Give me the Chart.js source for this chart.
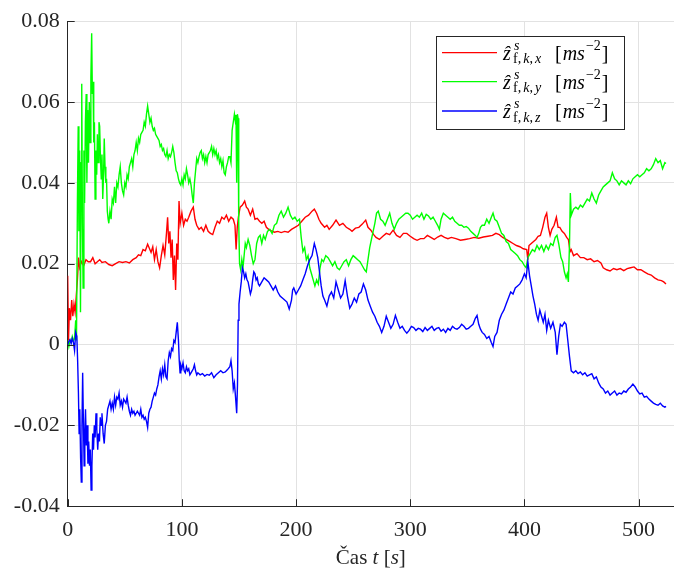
<!DOCTYPE html>
<html>
<head>
<meta charset="utf-8">
<script src="https://cdn.jsdelivr.net/npm/chart.js@4/dist/chart.umd.min.js"></script>
<style>
html,body{margin:0;padding:0;background:#fff;}
canvas{display:block;}
</style>
</head>
<body>
<canvas id="c" width="674" height="572"></canvas>
<script>
// ---- DATA ----
const xTicks = [0, 100, 200, 300, 400, 500];
const yTicks = [-0.04, -0.02, 0, 0.02, 0.04, 0.06, 0.08];
const seriesLabels = ['x', 'y', 'z'];

const redPts = [[0,0.017],[0.7,0.001],[1.5,0.009],[2.5,0.006],[3.5,0.011],[4.5,0.007],[5.5,0.010],[6.5,0.008],[7.5,0.012],[8.5,0.016],[9.5,0.0215],[10.5,0.019],[12,0.0205],[14,0.0195],[16,0.021],[18,0.0205],[20,0.0205],[22,0.0215],[24,0.020],[26,0.0205],[28,0.021],[30,0.0203],[33,0.0205],[36,0.0198],[39,0.0195],[42,0.020],[45,0.0205],[48,0.0203],[51,0.0205],[54,0.0202],[57,0.021],[60,0.0215],[62,0.0222],[64,0.022],[66,0.0235],[68,0.0232],[70,0.0248],[71.5,0.0238],[73,0.0228],[74.5,0.0242],[76,0.021],[77.5,0.0235],[79,0.0205],[80.5,0.019],[82,0.022],[83.5,0.0245],[85,0.0222],[86.5,0.0275],[87.5,0.0315],[88.5,0.025],[89.5,0.028],[90.5,0.0215],[91.5,0.026],[92.5,0.016],[93.5,0.022],[94.5,0.0135],[95.5,0.025],[96.5,0.021],[97.5,0.0355],[98.5,0.030],[100,0.0325],[101.5,0.0295],[103,0.031],[104.5,0.0305],[106,0.0315],[108,0.033],[110,0.034],[111.5,0.031],[113,0.0295],[115,0.0285],[117,0.029],[119,0.028],[121,0.0295],[123,0.028],[125,0.0275],[127,0.0272],[129,0.029],[131,0.0305],[133,0.030],[135,0.0315],[137,0.031],[139,0.032],[141,0.0305],[143,0.0315],[145,0.031],[146.5,0.0295],[147.5,0.0235],[148.5,0.029],[149.5,0.0315],[151,0.034],[153,0.0345],[155,0.0355],[156.5,0.034],[158,0.0335],[160,0.032],[162,0.0335],[164,0.031],[166,0.0312],[168,0.0305],[170,0.030],[172,0.0305],[174,0.029],[176,0.0285],[178,0.0282],[181,0.0278],[184,0.028],[187,0.0277],[190,0.028],[193,0.0278],[196,0.0285],[199,0.029],[202,0.0295],[205,0.0305],[208,0.0315],[211,0.032],[214,0.033],[216,0.0335],[218,0.0325],[220,0.031],[222,0.030],[225,0.029],[227,0.0295],[229,0.0285],[232,0.0295],[235,0.0308],[238,0.0295],[241,0.030],[244,0.029],[247,0.0285],[249,0.028],[252,0.0288],[255,0.029],[258,0.0298],[261,0.0308],[263,0.029],[265.5,0.0283],[268,0.0272],[270,0.0265],[273,0.026],[276,0.0268],[279,0.0275],[282,0.0272],[285,0.0283],[288,0.027],[291,0.0265],[294,0.0275],[297,0.0275],[300,0.0268],[303,0.0262],[306,0.0258],[309,0.0262],[312,0.0262],[315,0.027],[318,0.0265],[321,0.026],[324,0.0266],[327,0.027],[330,0.0265],[333,0.0262],[336,0.0265],[340,0.0262],[344,0.0258],[348,0.026],[352,0.0262],[356,0.0265],[360,0.0263],[364,0.0266],[368,0.0268],[372,0.027],[375,0.0275],[378,0.0272],[381,0.0265],[384,0.026],[387,0.0255],[390,0.025],[393,0.0245],[396,0.0242],[399,0.0237],[402,0.0235],[403,0.021],[404,0.0245],[406,0.025],[408,0.0255],[410,0.026],[412,0.0268],[414,0.027],[416,0.029],[418,0.0315],[419.5,0.0325],[421,0.029],[422.5,0.027],[424,0.0285],[426,0.0295],[428,0.0315],[429.5,0.029],[431,0.029],[433,0.028],[435,0.0275],[437,0.0265],[438.5,0.026],[440,0.023],[441,0.0235],[443,0.022],[446,0.0225],[449,0.0215],[452,0.0215],[455,0.021],[458,0.0212],[461,0.0205],[464,0.0208],[467,0.0202],[469,0.019],[472,0.0185],[475,0.0182],[478,0.0188],[481,0.0185],[484,0.0188],[487,0.0183],[490,0.0188],[493,0.019],[496,0.0192],[499,0.0185],[502,0.0185],[505,0.018],[508,0.0175],[511,0.0172],[514,0.0165],[517,0.016],[520,0.0158],[522,0.0155],[524,0.015]];

const greenPts = [[0,0.001],[1,-0.0005],[2,0.001],[3,0.0005],[4,0.002],[5,0.001],[6,0.0015],[7,0.006],[7.7,0.001],[8.5,0.035],[9.2,0.054],[9.8,0.028],[10.5,0.048],[11.2,0.008],[11.8,0.045],[12.3,0.0645],[12.9,0.030],[13.5,0.014],[14.2,0.048],[14.8,0.035],[15.5,0.055],[16.2,0.062],[16.8,0.040],[17.5,0.058],[18.2,0.045],[18.9,0.060],[19.6,0.050],[20.3,0.066],[21,0.077],[21.6,0.062],[22.2,0.065],[22.8,0.050],[23.4,0.055],[24,0.036],[24.7,0.048],[25.4,0.042],[26,0.052],[26.7,0.045],[27.4,0.055],[28,0.054],[28.7,0.046],[29.4,0.041],[30,0.047],[30.7,0.036],[31.4,0.042],[32,0.051],[32.7,0.044],[33.4,0.040],[34,0.041],[34.7,0.033],[35.4,0.031],[36,0.030],[37,0.033],[38,0.031],[39,0.036],[40,0.035],[41,0.039],[42,0.035],[43,0.040],[44,0.039],[45,0.042],[46,0.044],[47,0.040],[48,0.038],[49,0.037],[50,0.040],[51,0.039],[52,0.042],[53,0.041],[54,0.044],[55,0.045],[56,0.046],[57,0.044],[58,0.047],[59,0.048],[60,0.050],[61,0.048],[62,0.051],[63,0.050],[64,0.052],[65,0.0525],[66,0.053],[67,0.055],[68,0.054],[69,0.057],[70,0.059],[71,0.057],[72,0.055],[73,0.056],[74,0.054],[75,0.053],[76,0.0535],[77,0.052],[78,0.0515],[79,0.051],[80,0.0505],[81,0.049],[82,0.0495],[83,0.048],[84,0.0485],[85,0.047],[86,0.0465],[87,0.048],[88,0.046],[89,0.047],[90,0.0465],[91,0.0475],[92,0.049],[93,0.0475],[94,0.045],[95,0.043],[96,0.0425],[97,0.041],[98,0.040],[99,0.0395],[100,0.041],[101,0.0395],[102,0.042],[103,0.041],[104,0.0435],[105,0.042],[106,0.040],[107,0.041],[108,0.0395],[109,0.037],[110,0.035],[111,0.040],[112,0.043],[113,0.046],[114,0.045],[115,0.0465],[116,0.0475],[117,0.048],[118,0.046],[119,0.047],[120,0.045],[121,0.0465],[122,0.045],[123,0.047],[124,0.0475],[125,0.048],[126,0.049],[127,0.047],[128,0.0485],[129,0.047],[130,0.048],[131,0.046],[132,0.047],[133,0.045],[134,0.046],[135,0.044],[136,0.0455],[137,0.0425],[138,0.042],[139,0.044],[140,0.045],[141,0.0465],[142,0.0465],[143,0.045],[144,0.053],[145,0.055],[146,0.057],[146.7,0.0555],[147.4,0.0568],[148,0.040],[148.6,0.057],[149.2,0.056],[149.8,0.030],[150.5,0.020],[151.5,0.0185],[152.5,0.021],[153.5,0.019],[154.5,0.022],[155.5,0.025],[156.5,0.024],[158,0.026],[159.5,0.0245],[161,0.022],[162.5,0.020],[164,0.021],[165.5,0.025],[167,0.0265],[168.5,0.027],[170,0.025],[171.5,0.027],[173,0.026],[175,0.028],[177,0.0285],[179,0.0275],[181,0.0295],[183,0.030],[185,0.032],[187,0.033],[189,0.0315],[191,0.0325],[193,0.034],[195,0.032],[197,0.031],[199,0.0315],[201,0.0305],[203,0.031],[204.5,0.0265],[206,0.023],[207.5,0.024],[209,0.021],[210.5,0.022],[212,0.019],[213.5,0.0175],[215,0.016],[216.5,0.0145],[218,0.016],[219.5,0.015],[221,0.019],[222.5,0.021],[224,0.0205],[226,0.022],[228,0.0215],[230,0.0205],[232,0.0195],[234,0.0205],[236,0.019],[238,0.0185],[240,0.0195],[242,0.0205],[244,0.021],[246,0.0195],[248,0.021],[250,0.022],[252,0.0215],[254,0.021],[256,0.0205],[258,0.0195],[260,0.0185],[261.5,0.018],[263,0.021],[264.5,0.024],[266,0.026],[267.5,0.028],[269,0.030],[270.5,0.0325],[272,0.033],[274,0.031],[276,0.0305],[278,0.0295],[280,0.031],[282,0.0325],[284,0.030],[286,0.0285],[288,0.030],[290,0.031],[292,0.0315],[294,0.032],[296,0.0325],[298,0.0325],[300,0.032],[302,0.031],[304,0.0315],[306,0.032],[308,0.0315],[310,0.0325],[312,0.031],[314,0.0322],[316,0.0318],[318,0.031],[320,0.0315],[322,0.0305],[324,0.0295],[325.5,0.0285],[327,0.031],[329,0.0325],[331,0.032],[333,0.0315],[335,0.031],[337,0.0315],[339,0.0305],[341,0.030],[343,0.0295],[345,0.0295],[347,0.029],[349,0.0292],[351,0.0288],[353,0.028],[355,0.0275],[357,0.027],[358.5,0.0265],[360,0.0275],[361.5,0.029],[363,0.0295],[365,0.0295],[367,0.031],[369,0.030],[371,0.0315],[372.5,0.0325],[374,0.031],[376,0.0305],[378,0.029],[380,0.0275],[382,0.027],[384,0.0255],[386,0.025],[388,0.0235],[390,0.023],[392,0.0225],[394,0.022],[396,0.021],[398,0.0205],[400,0.0195],[401.5,0.019],[403,0.0215],[405,0.0225],[407,0.0235],[409,0.023],[411,0.0245],[413,0.0235],[415,0.0245],[417,0.023],[419,0.0245],[421,0.0235],[423,0.025],[425,0.0245],[427,0.0265],[428.5,0.027],[430,0.025],[432,0.0215],[433.5,0.0205],[435,0.018],[436.5,0.0165],[437.5,0.0175],[438.5,0.0155],[439.5,0.025],[440.2,0.0375],[441,0.032],[443,0.0335],[445,0.034],[447,0.0335],[449,0.0345],[451,0.034],[453,0.035],[455,0.036],[457,0.0355],[459,0.0375],[461,0.036],[463,0.035],[465,0.037],[467,0.038],[469,0.039],[471,0.0395],[473,0.040],[475,0.0405],[477,0.0425],[479,0.041],[481,0.0405],[483,0.0395],[485,0.0405],[487,0.040],[489,0.0395],[491,0.0405],[493,0.0398],[495,0.041],[497,0.0415],[499,0.042],[501,0.0415],[503,0.042],[505,0.0425],[507,0.0435],[509,0.043],[511,0.0435],[513,0.0445],[515,0.046],[517,0.045],[519,0.0455],[521,0.0435],[523,0.045],[524,0.0448]];

const bluePts = [[0,0],[1,0.0008],[2,0.0012],[3,0.0003],[4,0.0015],[5,0.0005],[6,-0.0015],[7,0.003],[8,0.002],[8.7,-0.004],[9.4,-0.012],[10,-0.022],[10.6,-0.016],[11.3,-0.028],[11.9,-0.034],[12.5,-0.020],[13.1,-0.007],[13.7,-0.018],[14.4,-0.030],[15,-0.022],[15.6,-0.016],[16.3,-0.025],[17,-0.020],[17.7,-0.0295],[18.4,-0.024],[19.1,-0.030],[19.8,-0.026],[20.5,-0.036],[21.2,-0.030],[21.9,-0.022],[22.6,-0.026],[23.3,-0.020],[24,-0.023],[24.8,-0.017],[25.5,-0.021],[26.3,-0.026],[27,-0.022],[27.8,-0.024],[28.5,-0.018],[29.3,-0.020],[30,-0.017],[31,-0.022],[32,-0.0245],[33,-0.020],[34,-0.019],[35,-0.016],[36,-0.015],[37,-0.014],[38,-0.016],[39,-0.0145],[40,-0.016],[41,-0.013],[42,-0.015],[43,-0.013],[44,-0.0135],[45,-0.012],[46,-0.015],[47,-0.014],[48,-0.0155],[49,-0.0135],[50,-0.014],[51,-0.0145],[52,-0.013],[53,-0.015],[54,-0.0165],[55,-0.0175],[56,-0.016],[57,-0.017],[58,-0.0165],[59,-0.0175],[60,-0.017],[61,-0.0165],[62,-0.017],[63,-0.0175],[64,-0.016],[65,-0.018],[66,-0.0175],[67,-0.0185],[68,-0.018],[69,-0.019],[70,-0.0205],[71,-0.017],[72,-0.016],[73,-0.0155],[74,-0.014],[75,-0.013],[76,-0.012],[77,-0.0125],[78,-0.011],[79,-0.010],[80,-0.008],[81,-0.0065],[82,-0.0085],[83,-0.006],[84,-0.0075],[85,-0.005],[86,-0.008],[87,-0.0085],[88,-0.004],[89,-0.002],[90,-0.003],[91,-0.001],[92,-0.0015],[93,0.001],[94,0.0005],[95,0.003],[96,0.0055],[97,0.001],[97.7,-0.004],[98.4,-0.007],[99,-0.005],[100,-0.006],[101,-0.0045],[102,-0.0065],[103,-0.007],[104,-0.0055],[105,-0.0065],[106,-0.006],[107,-0.0075],[108,-0.007],[109,-0.0065],[110,-0.006],[111,-0.005],[112,-0.0065],[113,-0.0075],[114,-0.007],[116,-0.0075],[118,-0.0072],[120,-0.0078],[122,-0.0074],[124,-0.0076],[126,-0.007],[128,-0.0082],[130,-0.0075],[132,-0.007],[134,-0.0065],[136,-0.007],[138,-0.0068],[140,-0.0062],[142,-0.0055],[143,-0.004],[144,-0.0065],[145,-0.011],[146,-0.0095],[147,-0.013],[148,-0.017],[148.7,-0.010],[149.3,0.006],[150,0.010],[151,0.013],[152,0.0155],[153,0.019],[154,0.018],[155,0.0165],[156,0.0175],[157,0.016],[158,0.0155],[159,0.014],[160,0.0125],[161,0.0135],[162,0.016],[163,0.018],[164,0.0175],[165,0.016],[166,0.0165],[167,0.015],[168,0.0145],[169,0.015],[170,0.0155],[172,0.0165],[174,0.016],[176,0.0155],[178,0.0145],[180,0.0135],[182,0.0145],[184,0.013],[186,0.012],[188,0.0115],[190,0.011],[192,0.0105],[194,0.0088],[196,0.011],[197,0.0135],[198,0.014],[200,0.0125],[202,0.0135],[204,0.0145],[206,0.016],[208,0.0175],[210,0.0195],[212,0.021],[214,0.022],[216,0.025],[217.5,0.0235],[219,0.0215],[220.5,0.018],[222,0.0145],[223.5,0.012],[225,0.011],[227,0.0095],[229,0.012],[231,0.013],[233,0.0115],[235,0.0155],[237,0.0135],[239,0.0115],[241,0.0125],[243,0.0158],[245,0.012],[247,0.009],[249,0.010],[251,0.0115],[253,0.0105],[255,0.0125],[257,0.013],[259,0.015],[261,0.0135],[263,0.011],[265,0.0095],[267,0.008],[269,0.007],[271,0.0055],[273,0.0045],[275,0.003],[277,0.0045],[279,0.007],[281,0.0055],[283,0.004],[285,0.005],[287,0.0072],[289,0.0055],[291,0.004],[293,0.0045],[295,0.0035],[297,0.0028],[299,0.0035],[301,0.0045],[303,0.0042],[305,0.0035],[307,0.004],[309,0.0038],[311,0.0032],[313,0.0042],[315,0.0035],[317,0.004],[319,0.0045],[321,0.0035],[323,0.004],[325,0.0042],[327,0.0033],[329,0.0038],[331,0.003],[333,0.004],[335,0.0035],[337,0.0045],[339,0.004],[341,0.0038],[343,0.0042],[345,0.005],[347,0.0045],[349,0.0038],[351,0.004],[353,0.0045],[355,0.005],[357,0.0065],[358.5,0.0072],[360,0.005],[361.5,0.0038],[363,0.003],[365,0.0025],[367,0.0015],[369,0.002],[371,0.0005],[372.5,-0.0005],[374,0.002],[376,0.003],[378,0.006],[380,0.0075],[382,0.0085],[384,0.010],[386,0.0115],[388,0.013],[390,0.0125],[392,0.014],[394,0.0145],[396,0.015],[398,0.016],[400,0.0175],[401.5,0.0165],[403,0.0205],[404.5,0.017],[406,0.0145],[407.5,0.012],[409,0.010],[410.5,0.0075],[412,0.006],[413.5,0.0085],[415,0.007],[416.5,0.0055],[418,0.0075],[419.5,0.0035],[421,0.006],[423,0.004],[425,0.0055],[427,0.003],[428.5,-0.0025],[430,0.002],[431.5,0.005],[433,0.0045],[435,0.0055],[436.5,0.005],[438,0.001],[439.5,-0.003],[441,-0.0065],[443,-0.007],[445,-0.0065],[447,-0.0072],[449,-0.0068],[451,-0.0075],[453,-0.007],[455,-0.0078],[457,-0.0075],[459,-0.0072],[461,-0.0085],[463,-0.008],[465,-0.0095],[467,-0.0105],[469,-0.011],[471,-0.012],[473,-0.0115],[475,-0.0125],[477,-0.012],[479,-0.0115],[481,-0.0125],[483,-0.012],[485,-0.0122],[487,-0.0115],[489,-0.0118],[491,-0.011],[493,-0.0105],[495,-0.0098],[497,-0.0105],[499,-0.0115],[501,-0.0122],[503,-0.012],[505,-0.013],[507,-0.0128],[509,-0.0135],[511,-0.014],[513,-0.0145],[515,-0.0148],[517,-0.015],[519,-0.0145],[521,-0.0152],[523,-0.0155],[524,-0.0153]];

// ---- CHART ----
const AX = '#262626';
const SERIF = "'Liberation Serif', 'Times New Roman', Times, serif";
const toXY = pts => pts.map(p => ({x: p[0], y: p[1]}));

function drawSeq(c, x, y, segs) {
  for (const s of segs) {
    c.font = s.f;
    if (s.t) c.fillText(s.t, x, y + (s.dy || 0));
    x += (s.t ? c.measureText(s.t).width : 0) + (s.gap || 0);
  }
  return x;
}
function seqWidth(c, segs) {
  let w = 0;
  for (const s of segs) { c.font = s.f; w += c.measureText(s.t).width + (s.gap || 0); }
  return w;
}

const decor = {
  id: 'decor',
  afterDatasetsDraw(chart) {
    const c = chart.ctx, a = chart.chartArea;
    const xs = chart.scales.x, ys = chart.scales.y;
    c.save();
    // inward ticks
    c.strokeStyle = AX; c.lineWidth = 1;
    c.beginPath();
    for (const v of yTicks) { const p = Math.round(ys.getPixelForValue(v)) + 0.5; c.moveTo(a.left, p); c.lineTo(a.left + 7, p); }
    for (const v of xTicks) { const p = Math.round(xs.getPixelForValue(v)) + 0.5; c.moveTo(p, a.bottom); c.lineTo(p, a.bottom - 7); }
    c.stroke();

    // legend
    const bx = 436, by = 36, bw = 188, bh = 93;
    c.fillStyle = '#fff'; c.fillRect(bx, by, bw, bh);
    c.strokeStyle = AX; c.lineWidth = 1; c.strokeRect(bx + 0.5, by + 0.5, bw, bh);
    const rows = [52.7, 81.7, 111];
    const big = '20px ' + SERIF, bigI = 'italic 20px ' + SERIF;
    const sm = '14px ' + SERIF, smI = 'italic 14px ' + SERIF;
    chart.data.datasets.forEach((ds, i) => {
      const L = rows[i];
      c.strokeStyle = ds.borderColor; c.lineWidth = 1.3;
      c.beginPath(); c.moveTo(442, L); c.lineTo(497, L); c.stroke();
      c.fillStyle = '#000'; c.textBaseline = 'alphabetic'; c.textAlign = 'left';
      drawSeq(c, 503, L + 7, [{t: 'ẑ', f: bigI}]);
      drawSeq(c, 514, L - 3, [{t: 's', f: smI}]);
      drawSeq(c, 513, L + 10.5, [
        {t: 'f', f: sm}, {t: ',', f: sm, gap: 2}, {t: 'k', f: smI}, {t: ',', f: sm, gap: 2}, {t: seriesLabels[i], f: smI}
      ]);
      let x = drawSeq(c, 555, L + 7, [{t: '[', f: big, gap: 1}, {t: 'ms', f: bigI}]);
      x = drawSeq(c, x + 1, L - 3, [{t: '\u22122', f: sm}]);
      drawSeq(c, x + 1, L + 7, [{t: ']', f: big}]);
    });

    // x axis title
    const segs = [{t: 'Čas ', f: '21px ' + SERIF}, {t: 't', f: 'italic 21px ' + SERIF}, {t: ' [', f: '21px ' + SERIF}, {t: 's', f: 'italic 21px ' + SERIF}, {t: ']', f: '21px ' + SERIF}];
    const w = seqWidth(c, segs);
    c.fillStyle = AX; c.textAlign = 'left';
    drawSeq(c, (a.left + a.right) / 2 - w / 2, 564, segs);
    c.restore();
  }
};

const datasets = [
  {label: 'x', data: toXY(redPts), borderColor: '#ff0000', order: 2},
  {label: 'y', data: toXY(greenPts), borderColor: '#00ff00', order: 1},
  {label: 'z', data: toXY(bluePts), borderColor: '#0000ff', order: 0}
].map(d => Object.assign(d, {borderWidth: 1.4, pointRadius: 0, tension: 0, fill: false}));

new Chart(document.getElementById('c'), {
  type: 'line',
  data: {datasets},
  options: {
    responsive: false,
    animation: false,
    devicePixelRatio: 1,
    layout: {padding: {top: 20.8, right: 0, left: 0, bottom: 0}},
    plugins: {legend: {display: false}, tooltip: {enabled: false}},
    scales: {
      x: {
        type: 'linear', min: 0, max: 531,
        afterBuildTicks: s => { s.ticks = xTicks.map(v => ({value: v})); },
        afterFit: s => { s.height = 65.8; },
        grid: {color: '#e2e2e2', lineWidth: 1, drawTicks: false},
        border: {color: AX, width: 1},
        ticks: {padding: 11, color: AX, font: {family: SERIF, size: 22}, maxRotation: 0, callback: v => String(v)}
      },
      y: {
        type: 'linear', min: -0.04, max: 0.08,
        afterBuildTicks: s => { s.ticks = yTicks.map(v => ({value: v})); },
        afterFit: s => { s.width = 67.7; },
        grid: {color: '#e2e2e2', lineWidth: 1, drawTicks: false},
        border: {color: AX, width: 1},
        ticks: {padding: 8, color: AX, font: {family: SERIF, size: 22},
          callback: v => (Math.abs(v) < 1e-9 ? '0' : v.toFixed(2))}
      }
    }
  },
  plugins: [decor]
});
</script>
</body>
</html>
